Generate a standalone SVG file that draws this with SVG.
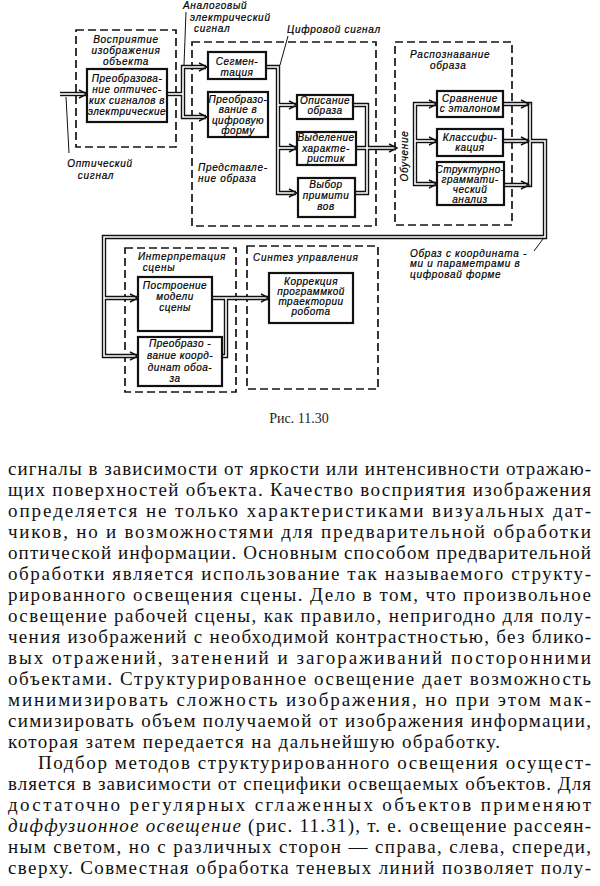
<svg xmlns="http://www.w3.org/2000/svg" width="600" height="886" viewBox="0 0 600 886">
<style>
.bg{fill:#fff}
.dash{fill:none;stroke:#151515;stroke-width:1.7;stroke-dasharray:8 4}
.node rect{fill:#fff;stroke:#111;stroke-width:2.2}
.lbl{font-family:"Liberation Sans","DejaVu Sans",sans-serif;font-style:italic;font-size:10px;letter-spacing:0.5px;fill:#000;stroke:#000;stroke-width:0.2;text-anchor:middle}
.ttl{font-family:"Liberation Sans","DejaVu Sans",sans-serif;font-style:italic;font-size:10px;letter-spacing:0.7px;fill:#000;stroke:#000;stroke-width:0.2}
.dlo{fill:none;stroke:#111;stroke-width:4.4;stroke-linejoin:miter}
.dli{fill:none;stroke:#fff;stroke-width:1.6;stroke-linejoin:miter}
.ah{fill:none;stroke:#111;stroke-width:1.4}
.lead{fill:none;stroke:#111;stroke-width:1}
.body{font-family:"Liberation Serif","Times New Roman",serif;font-size:19px;fill:#111}
.cap{font-family:"Liberation Serif","Times New Roman",serif;font-size:14px;fill:#222;text-anchor:middle}
</style>
<defs>
<path id="ah" class="ah" d="M-8,-4 L0,0 L-8,4"/>
<path id="p1" d="M 60 94 H 86"/>
<path id="p2" d="M 167 94 H 183"/>
<path id="p3" d="M 206 67 H 183 V 117 H 206"/>
<path id="p4" d="M 266 67 H 278 V 193 H 296"/>
<path id="p5" d="M 278 105 H 296"/>
<path id="p6" d="M 278 148 H 296"/>
<path id="p7" d="M 353 105 H 367 V 193 H 355"/>
<path id="p8" d="M 356 148 H 396"/>
<path id="p9" d="M 436 104 H 415 V 184 H 436"/>
<path id="p10" d="M 415 141 H 436"/>
<path id="p11" d="M 503 104 H 530 V 185 H 504"/>
<path id="p12" d="M 503 141 H 545 V 237 H 104 V 356 H 137"/>
<path id="p13" d="M 104 298 H 137"/>
<path id="p14" d="M 212 298 H 268"/>
<path id="p15" d="M 222 356 H 226 V 298"/>
</defs>
<rect class="bg" x="0" y="0" width="600" height="886"/>

<g id="containers">
<g id="c-perception"><rect class="dash" x="76" y="30" width="100" height="117"/>
<text class="ttl" x="126" y="43" text-anchor="middle">Восприятие</text>
<text class="ttl" x="126" y="54" text-anchor="middle">изображения</text>
<text class="ttl" x="126" y="65" text-anchor="middle">объекта</text></g>
<g id="c-representation"><rect class="dash" x="192" y="42" width="184" height="184"/>
<text class="ttl" x="198" y="171">Представле-</text>
<text class="ttl" x="198" y="182">ние образа</text></g>
<g id="c-recognition"><rect class="dash" x="395" y="42" width="117" height="183"/>
<text class="ttl" x="410" y="58">Распознавание</text>
<text class="ttl" x="430" y="69">образа</text>
<text class="ttl" transform="translate(408,156) rotate(-90)" text-anchor="middle">Обучение</text></g>
<g id="c-interpretation"><rect class="dash" x="125" y="248" width="111" height="144"/>
<text class="ttl" x="182" y="260" text-anchor="middle">Интерпретация</text>
<text class="ttl" x="159" y="271" text-anchor="middle">сцены</text></g>
<g id="c-synthesis"><rect class="dash" x="247" y="246" width="131" height="143"/>
<text class="ttl" x="253" y="261">Синтез управления</text></g>
</g>

<g id="connectors">
<use href="#p1" class="dlo"/><use href="#p2" class="dlo"/><use href="#p3" class="dlo"/><use href="#p4" class="dlo"/><use href="#p5" class="dlo"/><use href="#p6" class="dlo"/><use href="#p7" class="dlo"/><use href="#p8" class="dlo"/><use href="#p9" class="dlo"/><use href="#p10" class="dlo"/><use href="#p11" class="dlo"/><use href="#p12" class="dlo"/><use href="#p13" class="dlo"/><use href="#p14" class="dlo"/><use href="#p15" class="dlo"/>
<use href="#p1" class="dli"/><use href="#p2" class="dli"/><use href="#p3" class="dli"/><use href="#p4" class="dli"/><use href="#p5" class="dli"/><use href="#p6" class="dli"/><use href="#p7" class="dli"/><use href="#p8" class="dli"/><use href="#p9" class="dli"/><use href="#p10" class="dli"/><use href="#p11" class="dli"/><use href="#p12" class="dli"/><use href="#p13" class="dli"/><use href="#p14" class="dli"/><use href="#p15" class="dli"/>
<use href="#ah" x="87" y="94"/><use href="#ah" x="207" y="67"/><use href="#ah" x="207" y="117"/>
<use href="#ah" x="297" y="105"/><use href="#ah" x="297" y="148"/><use href="#ah" x="297" y="193"/>
<use href="#ah" x="397" y="148"/>
<use href="#ah" x="437" y="104"/><use href="#ah" x="437" y="141"/><use href="#ah" x="437" y="184"/>
<use href="#ah" x="529" y="104"/><use href="#ah" x="529" y="141"/><use href="#ah" x="529" y="185"/>
<use href="#ah" x="138" y="298"/><use href="#ah" x="138" y="356"/><use href="#ah" x="269" y="298"/>
<path class="lead" d="M 186 12 L 184 65"/>
<path class="lead" d="M 288 36 L 280 65"/>
<path class="lead" d="M 66 97 L 69 153"/>
<path class="lead" d="M 543 239 L 534 251"/>
</g>

<g id="labels">
<text class="ttl" x="183" y="9">Аналоговый</text>
<text class="ttl" x="190" y="21">электрический</text>
<text class="ttl" x="194" y="32">сигнал</text>
<text class="ttl" x="287" y="33">Цифровой сигнал</text>
<text class="ttl" x="100" y="167" text-anchor="middle" font-size="11">Оптический</text>
<text class="ttl" x="96" y="179" text-anchor="middle" font-size="11">сигнал</text>
<text class="ttl" x="410" y="257">Образ с координата -</text>
<text class="ttl" x="410" y="267">ми и параметрами в</text>
<text class="ttl" x="410" y="278">цифровай  форме</text>
</g>

<g id="n-opt" class="node"><rect x="87" y="69" width="80" height="53"/>
<text class="lbl" x="127" y="82">Преобразова-</text><text class="lbl" x="127" y="93">ние оптичес-</text><text class="lbl" x="127" y="104">ких сигналов в</text><text class="lbl" x="127" y="115">электрические</text></g>
<g id="n-seg" class="node"><rect x="208" y="52" width="58" height="27"/>
<text class="lbl" x="237" y="65">Сегмен-</text><text class="lbl" x="237" y="76">тация</text></g>
<g id="n-digit" class="node"><rect x="208" y="92" width="60" height="45"/>
<text class="lbl" x="238" y="103">Преобразо-</text><text class="lbl" x="238" y="113">вание в</text><text class="lbl" x="238" y="124">цифровую</text><text class="lbl" x="238" y="134">форму</text></g>
<g id="n-desc" class="node"><rect x="297" y="95" width="56" height="24"/>
<text class="lbl" x="325" y="104">Описание</text><text class="lbl" x="325" y="114">образа</text></g>
<g id="n-feat" class="node"><rect x="297" y="132" width="59" height="33"/>
<text class="lbl" x="326" y="141">Выделение</text><text class="lbl" x="326" y="152">характе-</text><text class="lbl" x="326" y="162">ристик</text></g>
<g id="n-prim" class="node"><rect x="298" y="178" width="57" height="39"/>
<text class="lbl" x="326" y="188">Выбор</text><text class="lbl" x="326" y="199">примити</text><text class="lbl" x="326" y="210">вов</text></g>
<g id="n-cmp" class="node"><rect x="437" y="91" width="66" height="26"/>
<text class="lbl" x="470" y="102">Сравнение</text><text class="lbl" x="470" y="112">с эталоном</text></g>
<g id="n-cls" class="node"><rect x="437" y="129" width="66" height="27"/>
<text class="lbl" x="470" y="141">Классифи-</text><text class="lbl" x="470" y="151">кация</text></g>
<g id="n-struct" class="node"><rect x="437" y="162" width="67" height="43"/>
<text class="lbl" x="470" y="173">Структурно-</text><text class="lbl" x="470" y="183">граммати-</text><text class="lbl" x="470" y="193">ческий</text><text class="lbl" x="470" y="203">анализ</text></g>
<g id="n-model" class="node"><rect x="138" y="277" width="74" height="54"/>
<text class="lbl" x="175" y="289">Построение</text><text class="lbl" x="175" y="300">модели</text><text class="lbl" x="175" y="311">сцены</text></g>
<g id="n-coord" class="node"><rect x="138" y="337" width="84" height="49"/>
<text class="lbl" x="180" y="347">Преобразо -</text><text class="lbl" x="180" y="359">вание коорд-</text><text class="lbl" x="180" y="371">динат обоа-</text><text class="lbl" x="175" y="382">за</text></g>
<g id="n-corr" class="node"><rect x="269" y="273" width="84" height="50"/>
<text class="lbl" x="311" y="285">Коррекция</text><text class="lbl" x="311" y="295">программкой</text><text class="lbl" x="311" y="305">траектории</text><text class="lbl" x="311" y="315">робота</text></g>

<text class="cap" x="299" y="423">Рис. 11.30</text>

<g id="body">
<text class="body" x="8" y="475" textLength="583" lengthAdjust="spacing">сигналы в зависимости от яркости или интенсивности отражаю-</text>
<text class="body" x="8" y="496" textLength="583" lengthAdjust="spacing">щих поверхностей объекта. Качество восприятия изображения</text>
<text class="body" x="8" y="517" textLength="583" lengthAdjust="spacing">определяется не только характеристиками визуальных дат-</text>
<text class="body" x="8" y="538" textLength="583" lengthAdjust="spacing">чиков, но и возможностями для предварительной обработки</text>
<text class="body" x="8" y="559" textLength="583" lengthAdjust="spacing">оптической информации. Основным способом предварительной</text>
<text class="body" x="8" y="580" textLength="583" lengthAdjust="spacing">обработки является использование так называемого структу-</text>
<text class="body" x="8" y="601" textLength="583" lengthAdjust="spacing">рированного освещения сцены. Дело в том, что произвольное</text>
<text class="body" x="8" y="622" textLength="583" lengthAdjust="spacing">освещение рабочей сцены, как правило, непригодно для полу-</text>
<text class="body" x="8" y="643" textLength="583" lengthAdjust="spacing">чения изображений с необходимой контрастностью, без блико-</text>
<text class="body" x="8" y="664" textLength="583" lengthAdjust="spacing">вых отражений, затенений и загораживаний посторонними</text>
<text class="body" x="8" y="685" textLength="583" lengthAdjust="spacing">объектами. Структурированное освещение дает возможность</text>
<text class="body" x="8" y="706" textLength="583" lengthAdjust="spacing">минимизировать сложность изображения, но при этом мак-</text>
<text class="body" x="8" y="727" textLength="583" lengthAdjust="spacing">симизировать объем получаемой от изображения информации,</text>
<text class="body" x="8" y="748" textLength="492" lengthAdjust="spacing">которая затем передается на дальнейшую обработку.</text>
<text class="body" x="38" y="769" textLength="553" lengthAdjust="spacing">Подбор методов структурированного освещения осущест-</text>
<text class="body" x="8" y="790" textLength="583" lengthAdjust="spacing">вляется в зависимости от специфики освещаемых объектов. Для</text>
<text class="body" x="8" y="811" textLength="583" lengthAdjust="spacing">достаточно регулярных сглаженных объектов применяют</text>
<text class="body" x="8" y="832" textLength="583" lengthAdjust="spacing"><tspan font-style="italic">диффузионное освещение</tspan> (рис. 11.31), т. е. освещение рассеян-</text>
<text class="body" x="8" y="853" textLength="583" lengthAdjust="spacing">ным светом, но с различных сторон — справа, слева, спереди,</text>
<text class="body" x="8" y="874" textLength="583" lengthAdjust="spacing">сверху. Совместная обработка теневых линий позволяет полу-</text>
</g>
</svg>
